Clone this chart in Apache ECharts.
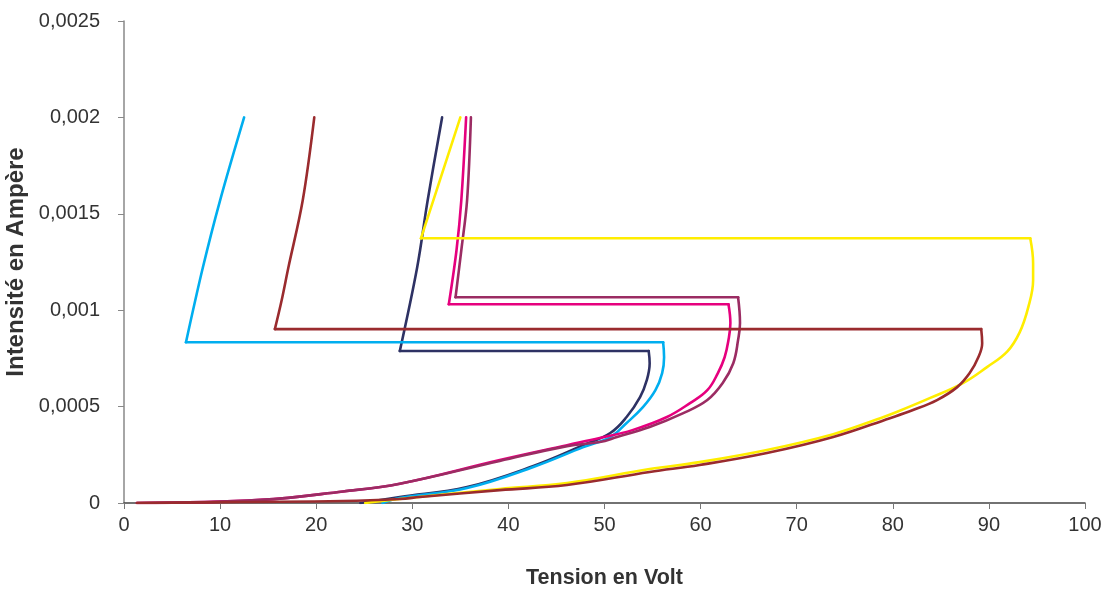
<!DOCTYPE html>
<html>
<head>
<meta charset="utf-8">
<script src="https://cdn.jsdelivr.net/npm/echarts@6/dist/echarts.min.js"></script>
<style>
html,body{margin:0;padding:0;background:#fff;}
#chart{width:1107px;height:591px;}
</style>
</head>
<body>
<div id="chart"></div>
<script>
// Tick labels
const xTickLabels = ['0','10','20','30','40','50','60','70','80','90','100'];
const yTickLabels = ['0','0,0005','0,001','0,0015','0,002','0,0025'];

// Series data (Tension en Volt, Intensité en Ampère)
const navyV = [24.6, 28.7, 35.7, 42.6, 47.8, 50.6, 52.3, 53.7, 54.4, 54.7, 54.6, 28.7, 30.5, 31.6, 33.1];
const navyI = [0, 0.000031, 0.000083, 0.000192, 0.0003, 0.000363, 0.000446, 0.000549, 0.000637, 0.000725, 0.000788, 0.000788, 0.00122, 0.00157, 0.002];

const cyanV = [26.9, 28.7, 35.7, 42.6, 47.8, 50.6, 52.3, 54.0, 55.3, 56.0, 56.2, 56.1, 6.45, 8.2, 10.0, 12.5];
const cyanI = [0, 0.000026, 0.000078, 0.000187, 0.00029, 0.000342, 0.000415, 0.000497, 0.000585, 0.000674, 0.000756, 0.000834, 0.000834, 0.00122, 0.00157, 0.002];

const magentaV = [1.35, 14.2, 22.8, 28.7, 39.1, 46.1, 49.5, 52.9, 56.5, 58.9, 60.7, 61.8, 62.5, 62.9, 63.1, 62.9, 33.8, 34.6, 35.1, 35.6];
const magentaI = [0, 0.000016, 0.00006, 0.0001, 0.000223, 0.0003, 0.000337, 0.000378, 0.000446, 0.000518, 0.000585, 0.000674, 0.000756, 0.000845, 0.000933, 0.001031, 0.001031, 0.001311, 0.00157, 0.002];

const purpleV = [1.35, 14.2, 22.8, 28.7, 39.1, 46.1, 49.5, 51.3, 54.7, 58.2, 60.7, 62.3, 63.4, 63.9, 64.1, 63.9, 34.5, 35.1, 35.7, 36.1];
const purpleI = [0, 0.000016, 0.00006, 0.0001, 0.000218, 0.000295, 0.000316, 0.000342, 0.000394, 0.000466, 0.000534, 0.000622, 0.000725, 0.000845, 0.000933, 0.001067, 0.001067, 0.001311, 0.00157, 0.002];

const yellowV = [25.1, 28.7, 39.1, 46.1, 54.7, 59.9, 66.9, 73.8, 78.7, 80.4, 83.9, 87.3, 89.8, 91.9, 93.2, 94.1, 94.6, 94.6, 94.3, 30.9, 35.0];
const yellowI = [0, 0.000021, 0.000073, 0.000103, 0.000176, 0.000212, 0.000275, 0.000357, 0.00044, 0.000472, 0.000545, 0.000622, 0.000705, 0.000785, 0.000885, 0.001016, 0.001155, 0.001244, 0.001373, 0.001373, 0.002];

const redV = [1.35, 12.4, 22.8, 28.7, 30.8, 39.1, 46.1, 54.7, 59.9, 66.9, 73.8, 79.7, 82.1, 84.6, 86.7, 88.0, 88.9, 89.3, 89.2, 15.7, 16.4, 17.1, 18.6, 19.8];
const redI = [0, 0.000005, 0.00001, 0.000021, 0.000031, 0.000067, 0.000093, 0.000161, 0.000197, 0.000259, 0.000342, 0.00044, 0.000482, 0.000534, 0.000601, 0.000674, 0.000756, 0.000829, 0.000902, 0.000902, 0.00105, 0.00122, 0.00157, 0.002];

function pairs(v, i) { return v.map((x, k) => [x, i[k]]); }

const seriesDefs = [
  { name: 'Série 1', v: navyV, i: navyI, color: '#2E3264' },
  { name: 'Série 2', v: cyanV, i: cyanI, color: '#00AEEF' },
  { name: 'Série 3', v: magentaV, i: magentaI, color: '#E6007E' },
  { name: 'Série 4', v: purpleV, i: purpleI, color: '#9B2C63' },
  { name: 'Série 5', v: yellowV, i: yellowI, color: '#FFED00' },
  { name: 'Série 6', v: redV, i: redI, color: '#9A2B2E' }
];

// Split each curve into: rising curved branch, horizontal jump, upper branch
const series = [];
seriesDefs.forEach(s => {
  const pts = pairs(s.v, s.i);
  let k = 0;
  for (let j = 0; j < s.i.length - 1; j++) { if (s.i[j] === s.i[j + 1]) { k = j; break; } }
  const parts = [
    { data: pts.slice(0, k + 1), smooth: 0.4 },
    { data: pts.slice(k, k + 2), smooth: false },
    { data: pts.slice(k + 1), smooth: 0.35 }
  ];
  parts.forEach(p => series.push({
    name: s.name, type: 'line', data: p.data,
    showSymbol: false, smooth: p.smooth, clip: true,
    lineStyle: { color: s.color, width: 2.6, join: 'round', cap: 'round' },
    itemStyle: { color: s.color }
  }));
});

const FONT = "'Liberation Sans', Arial, sans-serif";

const chart = echarts.init(document.getElementById('chart'), null, { renderer: 'canvas' });
chart.setOption({
  animation: false,
  backgroundColor: '#ffffff',
  grid: { left: 124, right: 22, top: 21, bottom: 88, containLabel: false, outerBoundsMode: 'none' },
  xAxis: {
    type: 'value', min: 0, max: 100, interval: 10,
    name: 'Tension en Volt', nameLocation: 'middle', nameGap: 64,
    nameTextStyle: { fontFamily: FONT, fontWeight: 'bold', fontSize: 21.5, color: '#333' },
    axisLine: { show: true, lineStyle: { color: '#444', width: 1.5 } },
    axisTick: { show: true, length: 6, lineStyle: { color: '#777' } },
    axisLabel: { margin: 12, fontFamily: FONT, fontSize: 20, color: '#333',
      formatter: v => xTickLabels[Math.round(v / 10)] },
    splitLine: { show: false }
  },
  yAxis: {
    type: 'value', min: 0, max: 0.0025, interval: 0.0005,
    name: 'Intensité en Ampère', nameLocation: 'middle', nameGap: 72, nameRotate: 90,
    nameTextStyle: { fontFamily: FONT, fontWeight: 'bold', fontSize: 24, color: '#333' },
    axisLine: { show: true, lineStyle: { color: '#888', width: 1.5 } },
    axisTick: { show: true, length: 6, lineStyle: { color: '#888' } },
    axisLabel: { margin: 24, fontFamily: FONT, fontSize: 20, color: '#333',
      formatter: v => yTickLabels[Math.round(v / 0.0005)] },
    splitLine: { show: false }
  },
  series: series
});
</script>
</body>
</html>
